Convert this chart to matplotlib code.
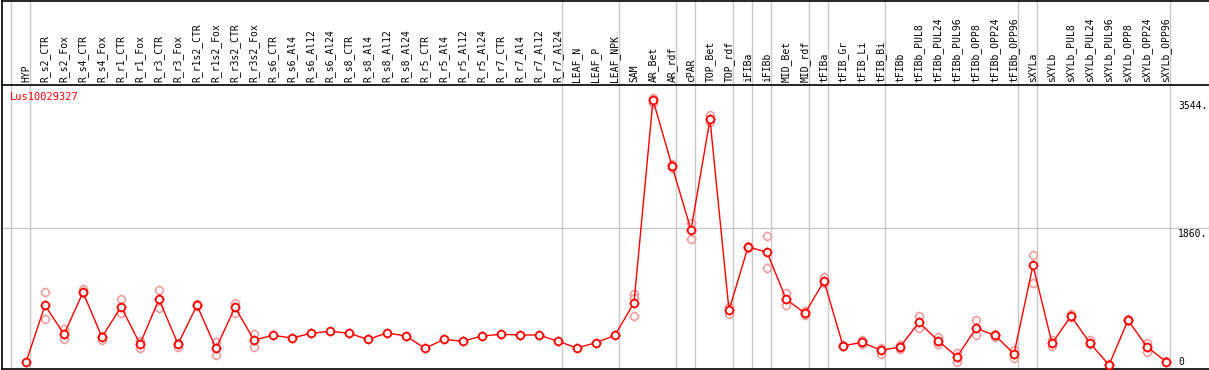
import numpy as np
import matplotlib
matplotlib.use("Agg")
import matplotlib.pyplot as plt

# Sample / column labels
samples = [
    "HYP", "R_s2_CTR", "R_s2_Fox", "R_s4_CTR", "R_s4_Fox", "R_r1_CTR", "R_r1_Fox",
    "R_r3_CTR", "R_r3_Fox", "R_r1s2_CTR", "R_r1s2_Fox", "R_r3s2_CTR", "R_r3s2_Fox",
    "R_s6_CTR", "R_s6_Al4", "R_s6_Al12", "R_s6_Al24", "R_s8_CTR", "R_s8_Al4",
    "R_s8_Al12", "R_s8_Al24", "R_r5_CTR", "R_r5_Al4", "R_r5_Al12", "R_r5_Al24",
    "R_r7_CTR", "R_r7_Al4", "R_r7_Al12", "R_r7_Al24", "LEAF_N", "LEAF_P", "LEAF_NPK",
    "SAM", "AR_Bet", "AR_rdf", "cPAR", "TOP_Bet", "TOP_rdf", "iFIBa", "iFIBb",
    "MID_Bet", "MID_rdf", "tFIBa", "tFIB_Gr", "tFIB_Li", "tFIB_Bi", "tFIBb",
    "tFIBb_PUL8", "tFIBb_PUL24", "tFIBb_PUL96", "tFIBb_OPP8", "tFIBb_OPP24",
    "tFIBb_OPP96", "sXYLa", "sXYLb", "sXYLb_PUL8", "sXYLb_PUL24", "sXYLb_PUL96",
    "sXYLb_OPP8", "sXYLb_OPP24", "sXYLb_OPP96",
]

# mean expression per sample
means = [
    88, 839, 457, 1010, 418, 821, 329, 918, 329, 839, 272, 813, 382,
    444, 408, 470, 497, 470, 391, 474, 435, 272, 391, 365, 435,
    457, 448, 448, 365, 277, 347, 444,
    874, 3544, 2677, 1831, 3290, 773, 1607, 1541,
    922, 733, 1159, 307, 351, 246, 290,
    615, 373, 162, 536, 444, 198,
    1366, 339, 698, 339, 53, 642, 294, 96,
]

# individual replicates (light points)
replicates = [
    [], [1010, 655], [531, 399], [1054, 997], [382, 435], [918, 742], [365, 281],
    [1041, 800], [294, 347], [852, 830], [356, 180], [874, 742], [461, 294],
    [], [], [], [], [], [], [], [], [], [], [], [],
    [], [], [], [], [], [], [],
    [984, 930, 702], [3570, 3510], [2700, 2650], [1927, 1708], [3346, 3260], [821, 725], [1620, 1590], [1752, 1326],
    [1006, 839], [768, 707], [1216, 1129], [320, 300], [382, 329], [198, 272], [312, 268],
    [698, 536], [426, 329], [206, 96], [646, 448], [461, 426], [250, 141],
    [1498, 1129], [382, 303], [725, 680], [382, 330], [60], [660, 630], [347, 228], [100],
]

# group separator lines (after these column indices)
separators = [-1, 0, 28, 31, 34, 35, 37, 38, 39, 41, 42, 45, 52, 53, 60]

y_ticks = [0, 1860, 3544]
y_tick_labels = ["0", "1860.", "3544."]
gene = "Lus10029327"

W, H = 1209, 370
fig = plt.figure(figsize=(W / 100, H / 100), dpi=100)

# pixel layout
x0_px, step_px = 26, 19
xlim = (-(x0_px - 2) / step_px, (W - x0_px) / step_px)
head_bot = 85
plot_bot = 369
ymax = (plot_bot - head_bot) / 0.0759

ax = fig.add_axes([2 / W, (H - plot_bot) / H, (W - 2) / W, (plot_bot - head_bot) / H])
hx = fig.add_axes([2 / W, (H - head_bot) / H, (W - 2) / W, (head_bot - 0.5) / H])

grey = "#c8c8c8"
for a in (ax, hx):
    a.set_xlim(*xlim)
    a.set_xticks([])
    a.set_yticks([])
    for s in a.spines.values():
        s.set_color("black")
        s.set_linewidth(1.2)
    a.spines["right"].set_visible(False)
    for s in separators:
        a.axvline(s + 4 / step_px, color=grey, lw=1, zorder=0)

ax.spines["top"].set_visible(False)
ax.set_ylim(0, ymax)
hx.set_ylim(0, 1)

ax.axhline(1860, color=grey, lw=1, zorder=0)

x = np.arange(len(samples))
pink = "#f09a9a"
for i, reps in enumerate(replicates):
    if reps:
        ax.plot([i] * len(reps), reps, ls="none", marker="+", ms=7.5, mew=0.9, color=pink, zorder=2)
        ax.plot([i] * len(reps), reps, ls="none", marker="o", ms=5.5, mew=1.1,
                mec=pink, mfc="white", zorder=2)

ax.plot(x, means, color="red", lw=1, zorder=3)
ax.plot(x, means, ls="none", marker="+", ms=7.5, mew=0.9, color="red", zorder=4)
ax.plot(x, means, ls="none", marker="o", ms=5.5, mew=1.3, mec="red", mfc="white", zorder=5)

# sample labels in header
for i, name in enumerate(samples):
    hx.text(i, 0.03, name, rotation=90, ha="center", va="bottom",
            fontsize=7, family="DejaVu Sans Mono", color="black")

# gene name
ax.text(xlim[0] + 8 / step_px, ymax - 12 / 0.0759, gene, color="red",
        fontsize=7.5, family="DejaVu Sans Mono", va="center", ha="left")

# value labels on the right
xl = (1178 - x0_px) / step_px
for v, lab in zip(y_ticks, y_tick_labels):
    if v == 0:
        ax.text(xl, 0 + 2 / 0.0759, lab, fontsize=7, family="DejaVu Sans Mono", va="bottom", ha="left")
    else:
        ax.text(xl, v - 1 / 0.0759, lab, fontsize=7, family="DejaVu Sans Mono", va="top", ha="left")

fig.savefig("out.png", dpi=100)
